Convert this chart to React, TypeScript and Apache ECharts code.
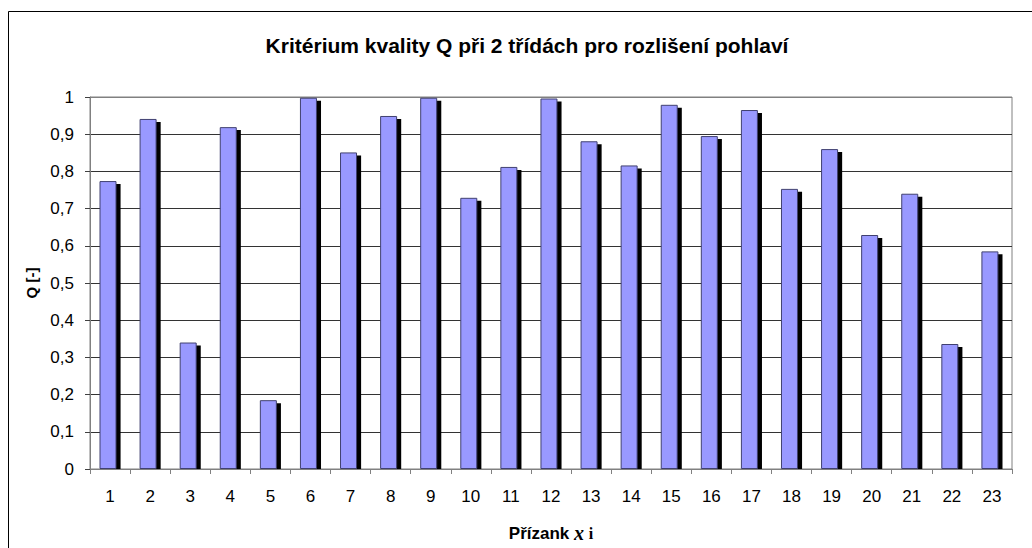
import React, { useEffect, useRef } from "react";
import * as echarts from "echarts";

const categories = ["1","2","3","4","5","6","7","8","9","10","11","12","13","14","15","16","17","18","19","20","21","22","23"];
const qValues = [0.774, 0.941, 0.340, 0.919, 0.185, 0.998, 0.851, 0.949, 0.998, 0.729, 0.812, 0.996, 0.881, 0.816, 0.979, 0.895, 0.965, 0.753, 0.860, 0.629, 0.740, 0.336, 0.585];
const titleText = "Kritérium kvality Q při 2 třídách pro rozlišení pohlaví";
const yName = "Q [-]";
const xNameMain = "Přízank";

const FONT = "'Liberation Sans', Arial, sans-serif";
// the drop shadow of each bar sits about 3px (0.008 of the axis) lower than the bar
const SHADOW_DROP = 0.008;

export default function App() {
  const ref = useRef<HTMLDivElement>(null);
  useEffect(() => {
    const chart = echarts.init(ref.current!, null, { renderer: "svg" });
    const splitColors = ["#808080", "#333", "#333", "#333", "#333", "#333", "#333", "#333", "#333", "#333", "#808080"];
    chart.setOption({
      animation: false,
      backgroundColor: "#fff",
      title: {
        text: titleText,
        left: 522,
        top: 30,
        textAlign: "center",
        textStyle: { fontFamily: FONT, fontWeight: "bold", fontSize: 21, color: "#000" },
      },
      graphic: [
        {
          type: "rect",
          shape: { x: 8.5, y: 11.5, width: 1040, height: 560 },
          style: { fill: "none", stroke: "#000", lineWidth: 1 },
          silent: true,
        },
      ],
      grid: {
        left: 90,
        top: 97,
        right: 20,
        bottom: 78,
        show: true,
        borderColor: "#808080",
        borderWidth: 1,
        backgroundColor: "transparent",
      },
      xAxis: {
        type: "category",
        data: categories,
        boundaryGap: true,
        name: xNameMain + " {x|x} {i|i}",
        nameLocation: "middle",
        nameGap: 54,
        nameTextStyle: {
          fontFamily: FONT,
          fontWeight: "bold",
          fontSize: 17,
          color: "#000",
          verticalAlign: "top",
          rich: {
            x: { fontFamily: "'Liberation Serif', serif", fontStyle: "italic", fontWeight: "bold", fontSize: 20, color: "#000" },
            i: { fontFamily: "'Liberation Serif', serif", fontSize: 16, color: "#000" },
          },
        },
        axisLine: { show: true, lineStyle: { color: "#808080", width: 1 } },
        axisTick: { show: true, inside: false, length: 5, alignWithLabel: false, lineStyle: { color: "#808080" } },
        axisLabel: { fontFamily: FONT, fontSize: 17, color: "#000", margin: 19, interval: 0 },
        splitLine: { show: false },
      },
      yAxis: {
        type: "value",
        min: 0,
        max: 1,
        interval: 0.1,
        name: yName,
        nameLocation: "middle",
        nameGap: 50,
        nameTextStyle: { fontFamily: FONT, fontWeight: "bold", fontSize: 15, color: "#000" },
        axisLine: { show: true, lineStyle: { color: "#808080", width: 1 } },
        axisTick: { show: true, inside: false, length: 5, lineStyle: { color: "#404040" } },
        axisLabel: {
          fontFamily: FONT,
          fontSize: 17,
          color: "#000",
          margin: 16,
          formatter: (v: number) => String(Number(v.toFixed(1))).replace(".", ","),
        },
        splitLine: { show: true, lineStyle: { color: splitColors, width: 1 } },
      },
      series: [
        {
          name: "Q",
          type: "bar",
          data: qValues,
          barWidth: 17,
          barGap: "-76%",
          z: 3,
          itemStyle: {
            color: "#9999FF",
            borderColor: "#404070",
            borderWidth: 1,
          },
        },
        {
          name: "shadow",
          type: "bar",
          data: qValues.map((v) => v - SHADOW_DROP),
          barWidth: 17,
          z: 2,
          silent: true,
          itemStyle: { color: "#000" },
        },
      ],
    });
    return () => chart.dispose();
  }, []);
  return (
    <div
      ref={ref}
      style={{ position: "absolute", left: 0, top: 0, width: 1032, height: 548 }}
    />
  );
}
